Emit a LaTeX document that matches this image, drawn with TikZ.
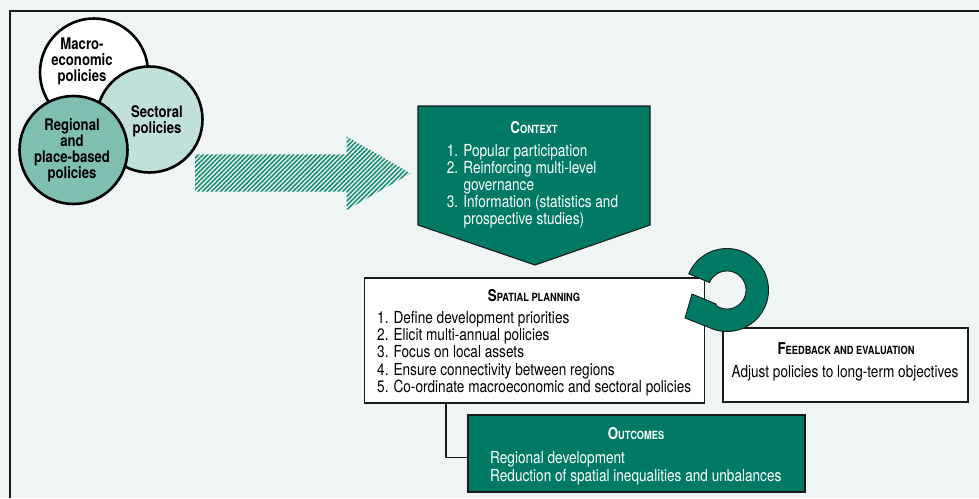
\documentclass[tikz,border=0pt]{standalone}
\usepackage{fontspec}
\setmainfont{TeX Gyre Heros}[FakeStretch=0.82]
\usetikzlibrary{patterns.meta}
\definecolor{bg}{HTML}{EEF5F4}
\definecolor{dgreen}{HTML}{007A64}
\definecolor{regc}{HTML}{7EBFB1}
\definecolor{secc}{HTML}{C0E0DA}
\definecolor{hatchc}{HTML}{1A8A75}
\definecolor{ink}{HTML}{1A1A1A}
\newcommand\bodysize{\fontsize{16.6}{17.5}\selectfont}
\newcommand\smc[2]{{\bfseries\fontsize{16.3}{17.5}\selectfont #1\fontsize{11.3}{12}\selectfont #2}}
\begin{document}
\begin{tikzpicture}[x=1pt,y=-1pt,
  circ/.style={circle, draw=black, line width=2.6pt, inner sep=0pt},
  ctxt/.style={align=center, inner sep=0pt, font=\bfseries\fontsize{16}{16}\selectfont},
  whitebox/.style={draw=ink, line width=1.1pt, fill=white, inner sep=0pt},
  greenbox/.style={draw=ink, line width=1.1pt, fill=dgreen, inner sep=0pt},
  ln/.style={anchor=base west, inner sep=0pt, font=\bodysize},
  ttl/.style={anchor=base, inner sep=0pt},
  wt/.style={text=white}]
% background and frame
\fill[bg] (0,0) rectangle (979,498);
\useasboundingbox (0,0) rectangle (979,498);
\draw[ink, line width=2pt] (10,498) -- (10,11) -- (979,11);

% circles
\node[circ, fill=white, minimum size=108pt] (macro) at (94,72.5) {};
\node[circ, fill=secc, minimum size=106pt] (sect) at (149.5,119.5) {};
\node[circ, fill=regc, minimum size=108pt] (reg) at (73.5,150) {};
\node[ctxt] (macrot) at (82,61.5) {Macro-\\economic\\policies};
\node[ctxt] (sectt) at (157,121.5) {Sectoral\\policies};
\node[ctxt] (regt) at (72,150) {Regional\\and\\place-based\\policies};

% hatched arrow
\path[pattern={Lines[angle=45,distance=3.2pt,line width=1.6pt]}, pattern color=hatchc]
  (195,154.3) -- (346.7,154.3) -- (346.7,136.5) -- (410.5,173.3) -- (346.7,210)
  -- (346.7,191.7) -- (195,191.7) -- cycle;

% context pentagon
\coordinate (ctl) at (418,106);
\coordinate (ctr) at (650,106);
\coordinate (cbr) at (650,225);
\coordinate (ctip) at (535,265);
\coordinate (cbl) at (418,225);
\filldraw[fill=dgreen, draw=ink, line width=1.1pt] (ctl) -- (ctr) -- (cbr) -- (ctip) -- (cbl) -- cycle;
\node[ttl, wt] (ctxtitle) at (534,133.3) {\smc{C}{ONTEXT}};
\node[ln, wt] (c1) at (446.7,156.7) {1. Popular participation};
\node[ln, wt] (c2) at (446.7,173.3) {2. Reinforcing multi-level};
\node[ln, wt] (c3) at (463.3,190) {governance};
\node[ln, wt] (c4) at (446.7,207.3) {3. Information (statistics and};
\node[ln, wt] (c5) at (463.3,224) {prospective studies)};

% spatial planning box
\node[whitebox, minimum width=340pt, minimum height=125pt] (spatial) at (534.5,340.5) {};
\node[ttl] (sptitle) at (534,301.7) {\smc{S}{PATIAL PLANNING}};
\node[ln] (s1) at (377,323) {1. Define development priorities};
\node[ln] (s2) at (377,340.3) {2. Elicit multi-annual policies};
\node[ln] (s3) at (377,357.6) {3. Focus on local assets};
\node[ln] (s4) at (377,375) {4. Ensure connectivity between regions};
\node[ln] (s5) at (377,392.5) {5. Co-ordinate macroeconomic and sectoral policies};

% feedback box
\node[whitebox, minimum width=245pt, minimum height=74pt] (feed) at (845.5,365) {};
\node[ttl] (fbtitle) at (846,354) {\smc{F}{EEDBACK AND EVALUATION}};
\node[ttl, font=\bodysize] (fb1) at (845,377.3) {Adjust policies to long-term objectives};

% circular arrow
\coordinate (rc) at (727,290);
\filldraw[fill=dgreen, draw=ink, line width=0.9pt, line join=miter]
  plot[domain=203:475, samples=100] ({727+41.5*cos(\x)},{290+41.5*sin(\x)})
  -- (685,318) -- (692,294) -- (716,304)
  -- plot[domain=203:484, samples=100] ({727+19*cos(687-\x)},{290+19*sin(687-\x)})
  -- cycle;

% outcomes box
\node[greenbox, minimum width=337pt, minimum height=77pt] (outc) at (636.5,453.5) {};
\node[ttl, wt] (outtitle) at (636,439.3) {\smc{O}{UTCOMES}};
\node[ln, wt] (o1) at (490,463.3) {Regional development};
\node[ln, wt] (o2) at (490,481.7) {Reduction of spatial inequalities and unbalances};

% connector
\coordinate (cstart) at (446,403);
\draw[ink, line width=1.1pt] (cstart) |- ([yshift=-4.3pt]outc.west);
\end{tikzpicture}
\end{document}
